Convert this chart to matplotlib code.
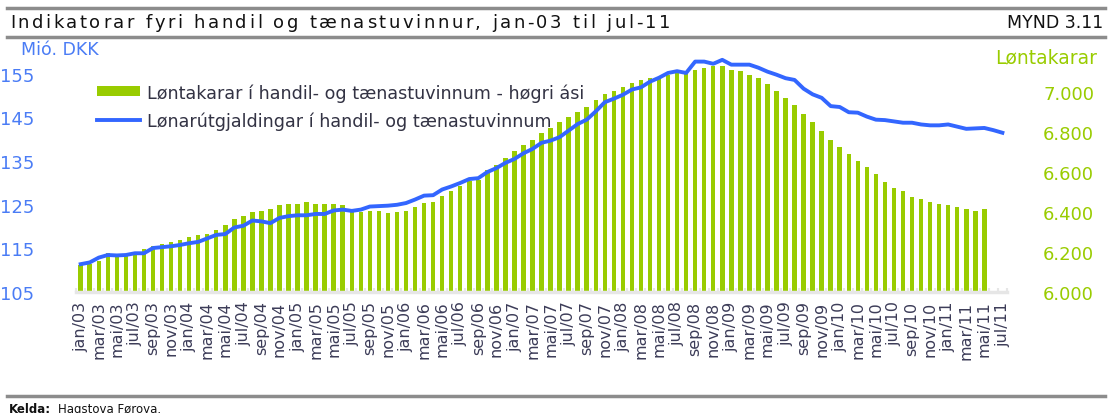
import matplotlib
matplotlib.use("Agg")
import matplotlib.pyplot as plt
import numpy as np
from matplotlib.lines import Line2D

# Data: monthly, jan/03 - jul/11
months = ['jan', 'feb', 'mar', 'apr', 'mai', 'jun', 'jul', 'aug', 'sep', 'okt', 'nov', 'des']
years = ['03', '04', '05', '06', '07', '08', '09', '10', '11']

# Løntakarar (right axis), jan/03 - mai/11
employees = [
    6135, 6140, 6157, 6195, 6182, 6185, 6202, 6215, 6230, 6240, 6250, 6260,
    6275, 6285, 6292, 6310, 6335, 6363, 6380, 6398, 6407, 6417, 6433, 6442,
    6442, 6450, 6442, 6442, 6442, 6433, 6398, 6400, 6407, 6407, 6397, 6398,
    6407, 6423, 6443, 6452, 6478, 6503, 6530, 6553, 6562, 6610, 6635, 6670,
    6707, 6735, 6762, 6794, 6820, 6848, 6873, 6902, 6927, 6962, 6990, 7005,
    7023, 7043, 7060, 7070, 7077, 7087, 7097, 7095, 7112, 7120, 7132, 7132,
    7112, 7103, 7087, 7068, 7042, 7007, 6970, 6935, 6892, 6848, 6803, 6761,
    6724, 6689, 6653, 6627, 6592, 6548, 6520, 6503, 6477, 6467, 6450, 6442,
    6433, 6423, 6415, 6407, 6415,
]

# Lønarútgjaldingar, mió. DKK (left axis), jan/03 - jul/11
wages = [
    111.4, 111.8, 112.9, 113.5, 113.4, 113.5, 113.9, 113.9, 115.1, 115.3, 115.5, 115.8,
    116.2, 116.5, 117.3, 118.1, 118.3, 119.8, 120.2, 121.4, 121.2, 120.8, 122.0, 122.4,
    122.6, 122.6, 122.9, 122.9, 123.7, 123.9, 123.6, 123.9, 124.6, 124.7, 124.8, 125.0,
    125.4, 126.2, 127.1, 127.2, 128.5, 129.2, 130.0, 130.9, 131.1, 132.5, 133.4, 134.6,
    135.5, 136.8, 137.8, 139.2, 139.7, 140.5, 142.0, 143.5, 144.5, 146.4, 148.5, 149.3,
    150.2, 151.4, 151.9, 153.2, 154.1, 155.2, 155.6, 155.2, 157.8, 157.8, 157.3, 158.2,
    157.1, 157.1, 157.1, 156.4, 155.5, 154.8, 154.0, 153.6, 151.6, 150.3, 149.5, 147.6,
    147.4, 146.2, 146.1, 145.2, 144.5, 144.4, 144.1, 143.8, 143.8, 143.4, 143.2, 143.2,
    143.4, 142.9, 142.4, 142.5, 142.6, 142.1, 141.5,
]

left_ticks = [105, 115, 125, 135, 145, 155]
right_ticks = [6000, 6200, 6400, 6600, 6800, 7000]
right_tick_labels = ['6.000', '6.200', '6.400', '6.600', '6.800', '7.000']

labels = [f"{m}/{y}" for y in years for m in months][:len(wages)]

GREEN = '#99cc00'
BLUE = '#3366ff'
BLUE_TXT = '#4a7cf5'
DARK = '#333344'

fig = plt.figure(figsize=(11.12, 4.14), dpi=100)
ax1 = fig.add_axes([0.0685, 0.292, 0.837, 0.58])
ax2 = ax1.twinx()

x_bar = np.arange(len(employees))
x_line = np.arange(len(wages))

bars = ax2.bar(x_bar, employees, width=0.5, color=GREEN, zorder=2)
line, = ax1.plot(x_line, wages, color=BLUE, lw=2.8, zorder=3)

ax1.set_zorder(ax2.get_zorder() + 1)
ax1.patch.set_visible(False)

ax1.set_xlim(-0.5, len(wages) - 0.5)
ax1.set_ylim(105, 160)
ax2.set_ylim(6000, 7200)

ax1.set_yticks(left_ticks)
ax1.set_yticklabels([str(t) for t in left_ticks])
ax2.set_yticks(right_ticks)
ax2.set_yticklabels(right_tick_labels)

ax1.set_xticks(x_line[::2])
ax1.set_xticklabels(labels[::2], rotation=90, fontsize=11.5, color='#3c3c58')
ax1.set_xticks(np.arange(len(wages) + 1) - 0.5, minor=True)

for a in (ax1, ax2):
    for s in a.spines.values():
        s.set_visible(False)
ax1.spines['bottom'].set_visible(True)
ax1.spines['bottom'].set_color('#e6e6e6')
ax1.spines['bottom'].set_linewidth(2.5)

ax1.tick_params(axis='x', which='major', length=0, pad=6)
ax1.tick_params(axis='x', which='minor', direction='in', length=3, color='#e6e6e6', width=1.5)
ax1.tick_params(axis='y', length=0, labelsize=13, labelcolor=BLUE_TXT)
for t in ax1.get_yticklabels():
    t.set_horizontalalignment('left')
ax1.tick_params(axis='y', pad=55)
ax2.tick_params(axis='y', length=0, labelsize=13, labelcolor=GREEN, pad=26)

fig.text(0.019, 0.858, 'Mió. DKK', color=BLUE_TXT, fontsize=12.5, va='bottom')
fig.text(0.987, 0.838, 'Løntakarar', color=GREEN, fontsize=13.5, ha='right', va='bottom')

leg = ax1.legend([bars, line],
                 ['Løntakarar í handil- og tænastuvinnum - høgri ási',
                  'Lønarútgjaldingar í handil- og tænastuvinnum'],
                 loc='upper left', bbox_to_anchor=(0.087, 0.797),
                 bbox_transform=fig.transFigure, frameon=False,
                 fontsize=12.6, borderpad=0, borderaxespad=0,
                 handlelength=2.5, handleheight=0.5, handletextpad=0.4,
                 labelspacing=0.55)
for t in leg.get_texts():
    t.set_color(DARK)


def spaced_text(x_px, y_frac, s, extra_px, **kw):
    # draws text one character at a time with extra letter spacing
    renderer = fig.canvas.get_renderer()
    x = x_px
    for ch in s:
        t = fig.text(x / fig.bbox.width, y_frac, ch, **kw)
        w = t.get_window_extent(renderer).width
        if ch == ' ':
            w = fig.text(0, 0, 'a', **kw).get_window_extent(renderer).width * 0.55
            fig.texts[-1].remove()
        x += w + extra_px


# header / footer rules and texts
for yy in (0.978, 0.908, 0.041):
    fig.add_artist(Line2D([0.006, 0.994], [yy, yy], transform=fig.transFigure,
                          color='#8c8c8c', lw=2.5))
spaced_text(10, 0.945, 'Indikatorar fyri handil og tænastuvinnur, jan-03 til jul-11', 2.55,
            fontsize=13, color='#111111', va='center')
fig.text(0.992, 0.945, 'MYND 3.11', fontsize=12.5, color='#111111', va='center', ha='right')
fig.text(0.008, 0.012, 'Kelda:', fontsize=8.5, fontweight='bold', color='#111111', va='center')
fig.text(0.052, 0.012, 'Hagstova Føroya.', fontsize=8.5, color='#111111', va='center')

fig.savefig('out.png', dpi=100)
